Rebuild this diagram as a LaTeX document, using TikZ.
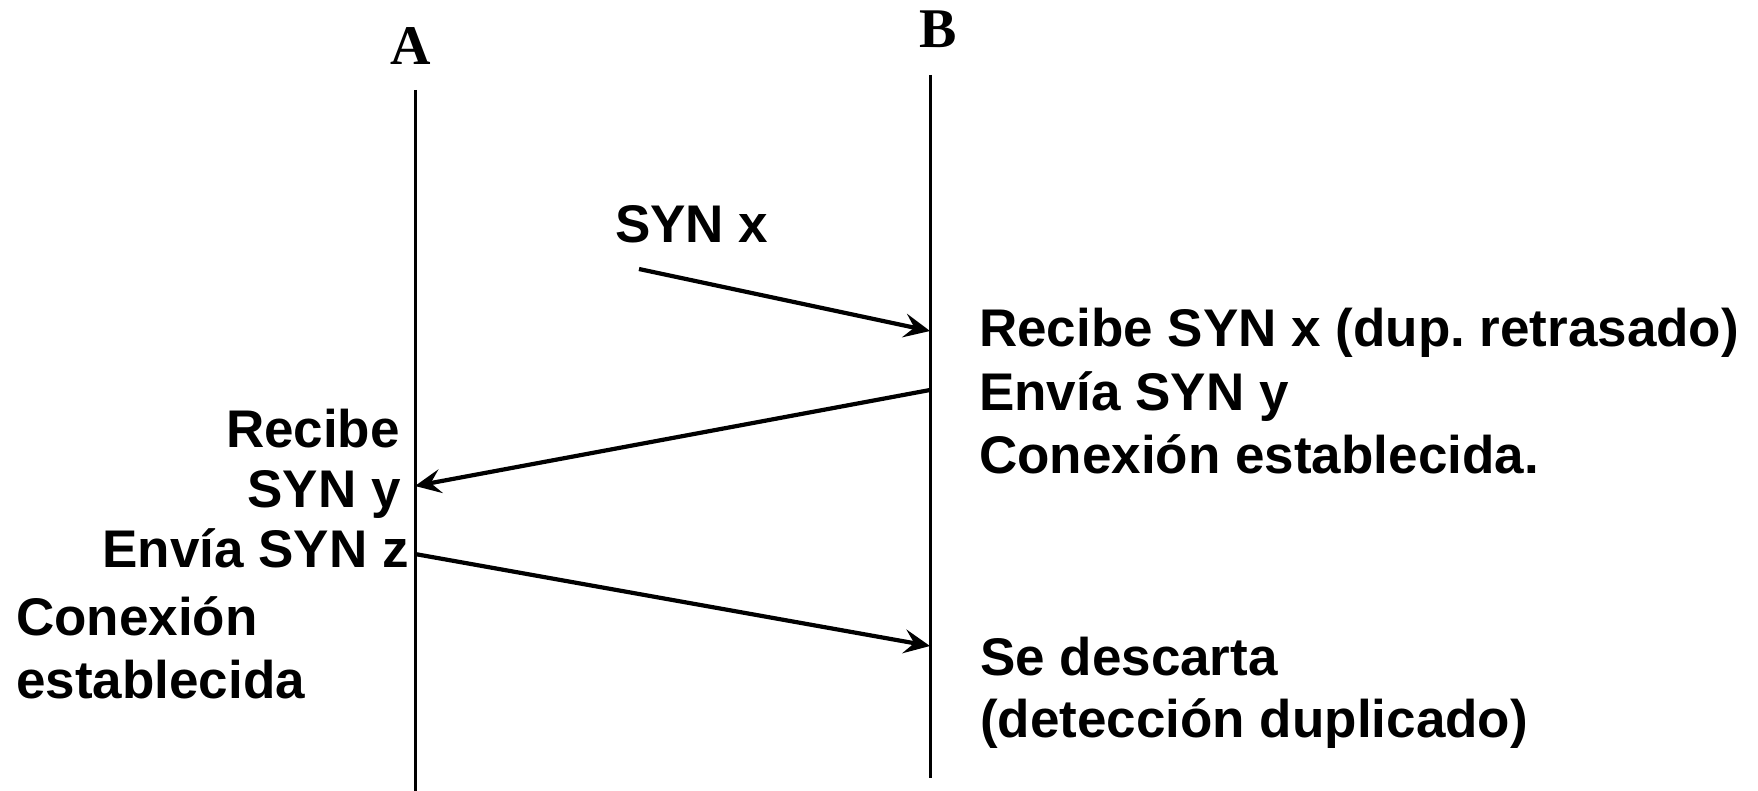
\documentclass[tikz,border=0pt]{standalone}
\usepackage{fontspec}
\setmainfont{Liberation Sans}
\newfontfamily\hdrfont{Liberation Serif}
\usetikzlibrary{arrows.meta}
\frenchspacing
\begin{document}
\begin{tikzpicture}[x=1pt,y=-1pt,
  lbl/.style={inner sep=0pt, font=\fontsize{53}{63}\selectfont\bfseries},
  hdr/.style={inner sep=0pt, font=\hdrfont\fontsize{56}{60}\selectfont\bfseries},
  life/.style={line width=3pt},
  msg/.style={line width=4.2pt, -{Stealth[length=26pt,width=24pt,inset=10pt]}}]
\useasboundingbox (0,0) rectangle (1758,791);
% headers
\node[hdr, anchor=base] (A) at (411,65) {A};
\node[hdr, anchor=base] (B) at (938,48) {B};
% lifelines
\coordinate (Atop) at (415,90);
\coordinate (Abot) at (415,791);
\coordinate (Btop) at (930,75);
\coordinate (Bbot) at (930,778);
\draw[life] (Atop) -- (Abot);
\draw[life] (Btop) -- (Bbot);
% message endpoints
\coordinate (m1s) at (639,269);
\coordinate (m1e) at (930,331);
\coordinate (m2s) at (930,390);
\coordinate (m2e) at (415,486);
\coordinate (m3s) at (415,554);
\coordinate (m3e) at (930,646);
\draw[msg] (m1s) -- (m1e);
\draw[msg] (m2s) -- (m2e);
\draw[msg] (m3s) -- (m3e);
% labels
\node[lbl, anchor=base west] (synx) at (615,243) {SYN x};
\node[lbl, anchor=base west] (r1) at (979,347) {Recibe SYN x (dup. retrasado)};
\node[lbl, anchor=base west] (r2) at (979,410) {Envía SYN y};
\node[lbl, anchor=base west] (r3) at (979,473) {Conexión establecida.};
\node[lbl, anchor=base west] (r4) at (980,675) {Se descarta};
\node[lbl, anchor=base west] (r5) at (980,737) {(detección duplicado)};
\node[lbl, anchor=base east] (l1) at (400,447) {Recibe};
\node[lbl, anchor=base east] (l2) at (401,507) {SYN y};
\node[lbl, anchor=base east] (l3) at (409,567) {Envía SYN z};
\node[lbl, anchor=base west] (l4) at (16,635) {Conexión};
\node[lbl, anchor=base west] (l5) at (16,698) {establecida};
\end{tikzpicture}
\end{document}
